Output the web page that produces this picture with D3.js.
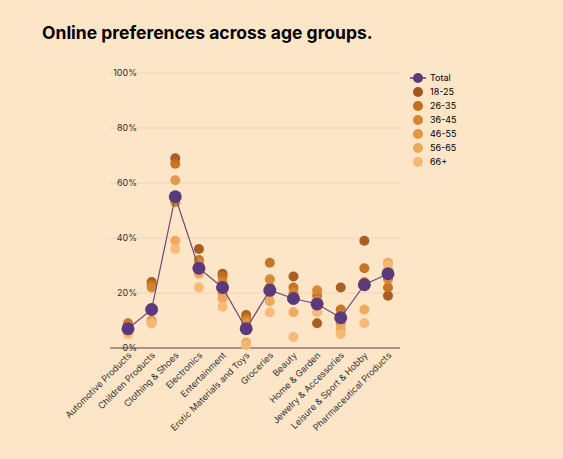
<!DOCTYPE html><html><head><script src="https://cdn.jsdelivr.net/npm/d3@7"></script>
<style>body{margin:0;background:#fde5c8;}svg{display:block;font-family:Inter,sans-serif}</style></head><body><svg id="c" width="563" height="459"></svg>
<script>
const categories=["Automotive Products","Children Products","Clothing & Shoes","Electronics","Entertainment","Erotic Materials and Toys","Groceries","Beauty","Home & Garden","Jewelry & Accessories","Leisure & Sport & Hobby","Pharmaceutical Products"];
const total=[7,14,55,29,22,7,21,18,16,11,23,27];
const age1825=[8,24,69,36,27,12,22,26,9,22,39,19];
const age2635=[9,23,67,32,26,11,31,22,19,14,29,22];
const age3645=[8,22,53,31,24,10,25,20,21,12,24,25];
const age4655=[7,10,61,30,20,9,20,18,17,9,23,28];
const age5665=[6,9,39,27,18,2,17,13,15,7,14,31];
const age66=[5,9,36,22,15,1,13,4,13,5,9,30];
const groups=["18-25","26-35","36-45","46-55","56-65","66+"];
const groupVals=[age1825,age2635,age3645,age4655,age5665,age66];
const colors=["#a3561b","#c36f1e","#d5852f","#e39642","#eea658","#f5b872"];
const yTicks=[0,20,40,60,80,100];
const svg=d3.select("#c");
svg.append("text").attr("x",42).attr("y",39).attr("font-size",17.5).attr("font-weight",700).attr("fill","#000").text("Online preferences across age groups.");
const x=d3.scalePoint().domain(categories).range([128,388]);
const y=d3.scaleLinear().domain([0,100]).range([348,73]);
const g=svg.append("g");
yTicks.forEach(t=>{
  g.append("line").attr("x1",110).attr("x2",400).attr("y1",y(t)).attr("y2",y(t)).attr("stroke",t==0?"#5a4040":"#ead6bd").attr("stroke-width",t==0?1.2:1);
  g.append("text").attr("x",137).attr("y",y(t)+3).attr("text-anchor","end").attr("font-size",9).attr("fill","#333").text(t+"%");
});
groupVals.forEach((vals,i)=>{
  g.selectAll(null).data(vals).enter().append("circle").attr("cx",(d,j)=>x(categories[j])).attr("cy",d=>y(d)).attr("r",5).attr("fill",colors[i]).attr("opacity",0.95);
});
g.append("path").datum(total).attr("fill","none").attr("stroke","#6b4a7a").attr("stroke-width",1.2)
 .attr("d",d3.line().x((d,j)=>x(categories[j])).y(d=>y(d)));
g.selectAll(null).data(total).enter().append("circle").attr("cx",(d,j)=>x(categories[j])).attr("cy",d=>y(d)).attr("r",6.5).attr("fill","#5b3a7c");
categories.forEach(c=>{
  g.append("text").attr("transform",`translate(${x(c)+4},${356}) rotate(-45)`).attr("text-anchor","end").attr("font-size",9).attr("fill","#333").text(c);
});
const lg=svg.append("g").attr("transform","translate(418,78)");
lg.append("line").attr("x1",-8).attr("x2",8).attr("stroke","#5b3a7c").attr("stroke-width",1.5);
lg.append("circle").attr("r",5).attr("fill","#5b3a7c");
lg.append("text").attr("x",12).attr("y",3).attr("font-size",9).text("Total");
groups.forEach((gname,i)=>{
  const yy=(i+1)*14;
  lg.append("circle").attr("cy",yy).attr("r",5).attr("fill",colors[i]);
  lg.append("text").attr("x",12).attr("y",yy+3).attr("font-size",9).text(gname);
});
</script></body></html>
